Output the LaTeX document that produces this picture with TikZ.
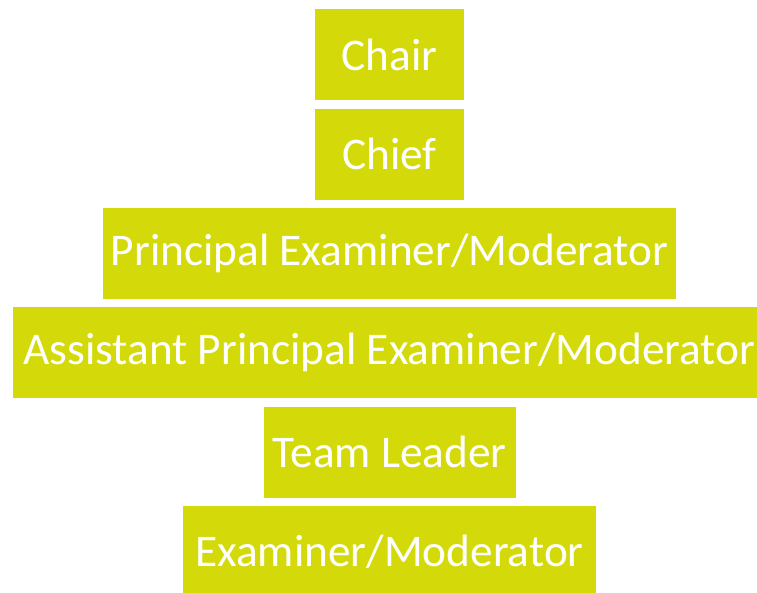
\documentclass[tikz,border=0pt]{standalone}
\usepackage{fontspec}
\setmainfont{Carlito}
\usetikzlibrary{positioning}
\definecolor{lime}{RGB}{212,218,10}

\begin{document}
\begin{tikzpicture}[x=1pt,y=1pt,node distance=8pt,
	level/.style={fill=lime,text=white,minimum height=91pt,inner sep=0pt,
		font=\fontsize{45.3}{45.3}\selectfont}]
	\useasboundingbox (0,0) rectangle (757,-593);
	\clip (0,0) rectangle (757,-593);
	\node[level,minimum width=149pt,anchor=north] (chair) at (389.5,-9) {Chair};
	\node[level,minimum width=149pt,below=of chair] (chief) {Chief};
	\node[level,minimum width=573pt,below=of chief] (principal) {Principal Examiner/Moderator};
	\node[level,minimum width=753pt,below=of principal] (assistant) {Assistant Principal Examiner/Moderator};
	\node[level,minimum width=252pt,below=of assistant] (leader) {Team Leader};
	\node[level,minimum width=413pt,below=of leader] (examiner) {Examiner/Moderator};
\end{tikzpicture}
\end{document}
